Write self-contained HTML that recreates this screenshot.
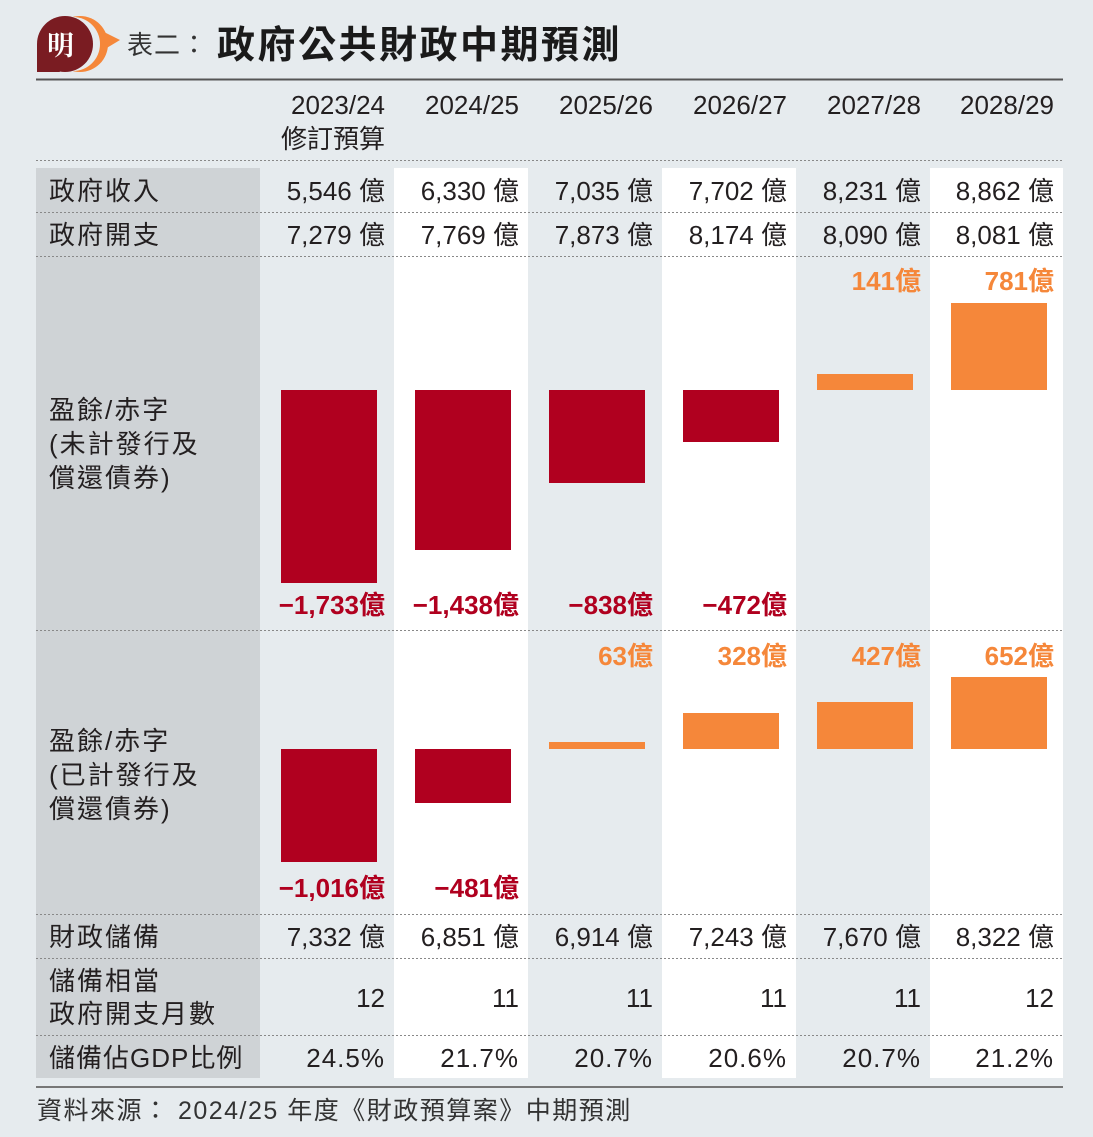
<!DOCTYPE html>
<html><head><meta charset="utf-8"><style>
html,body{margin:0;padding:0;background:#e6ebee;}
svg{display:block;}
text{font-family:"Liberation Sans","Noto Sans CJK TC",sans-serif;fill:#231f20;}
.v{font-size:26px;text-anchor:end;}
.l{font-size:26px;letter-spacing:2px;}
.r{fill:#b0001f;font-weight:bold;font-size:26px;text-anchor:end;}
.o{fill:#f5873a;font-weight:bold;font-size:26px;text-anchor:end;}
</style></head><body>
<svg width="1093" height="1137" viewBox="0 0 1093 1137" xmlns="http://www.w3.org/2000/svg">
<rect width="1093" height="1137" fill="#e6ebee"/>
<!-- logo -->
<circle cx="80" cy="44" r="28" fill="#f5873a"/>
<path d="M100 30 L120 40 L100 52 Z" fill="#f5873a"/>
<circle cx="73" cy="44" r="27" fill="#e6ebee"/>
<circle cx="65" cy="44" r="28" fill="#7a1c22"/>
<path d="M37 44 L37 72 L60 72 Z" fill="#7a1c22"/>
<text x="47" y="55" style="font-size:27px;font-weight:bold;fill:#fff;font-family:'Noto Serif CJK SC',serif">明</text>
<text x="127" y="54" style="font-size:26px;fill:#333;letter-spacing:1px">表二：</text>
<text x="217" y="58" style="font-size:38px;font-weight:bold;fill:#1a1a1a;letter-spacing:2.5px">政府公共財政中期預測</text>
<line x1="36" y1="79.5" x2="1063" y2="79.5" stroke="#555" stroke-width="2"/>
<!-- backgrounds -->
<rect x="36" y="168" width="224" height="910" fill="#cfd3d6"/>
<rect x="394" y="168" width="134" height="910" fill="#fff"/>
<rect x="662" y="168" width="134" height="910" fill="#fff"/>
<rect x="930" y="168" width="133" height="910" fill="#fff"/>
<!-- dotted lines -->
<g stroke="#888" stroke-width="1" stroke-dasharray="2,2">
<line x1="36" y1="160.5" x2="1063" y2="160.5"/>
<line x1="36" y1="212.5" x2="1063" y2="212.5"/>
<line x1="36" y1="256.5" x2="1063" y2="256.5"/>
<line x1="36" y1="630.5" x2="1063" y2="630.5"/>
<line x1="36" y1="914.5" x2="1063" y2="914.5"/>
<line x1="36" y1="958.5" x2="1063" y2="958.5"/>
<line x1="36" y1="1035.5" x2="1063" y2="1035.5"/>
</g>
<line x1="36" y1="1087" x2="1063" y2="1087" stroke="#777" stroke-width="2"/>
<!-- headers -->
<text class="v" x="385" y="114">2023/24</text>
<text class="v" x="385" y="148">修訂預算</text>
<text class="v" x="519" y="114">2024/25</text>
<text class="v" x="653" y="114">2025/26</text>
<text class="v" x="787" y="114">2026/27</text>
<text class="v" x="921" y="114">2027/28</text>
<text class="v" x="1054" y="114">2028/29</text>
<!-- row labels -->
<text class="l" x="49" y="200">政府收入</text>
<text class="l" x="49" y="244">政府開支</text>
<text class="l" x="49" y="419">盈餘/赤字</text>
<text class="l" x="49" y="453">(未計發行及</text>
<text class="l" x="49" y="487">償還債券)</text>
<text class="l" x="49" y="750">盈餘/赤字</text>
<text class="l" x="49" y="784">(已計發行及</text>
<text class="l" x="49" y="818">償還債券)</text>
<text class="l" x="49" y="946">財政儲備</text>
<text class="l" x="49" y="990">儲備相當</text>
<text class="l" x="49" y="1023">政府開支月數</text>
<text x="49" y="1067" style="font-size:26px;letter-spacing:1px">儲備佔GDP比例</text>
<!-- values -->
<text class="v" x="385" y="200">5,546 億</text><text class="v" x="519" y="200">6,330 億</text><text class="v" x="653" y="200">7,035 億</text><text class="v" x="787" y="200">7,702 億</text><text class="v" x="921" y="200">8,231 億</text><text class="v" x="1054" y="200">8,862 億</text>
<text class="v" x="385" y="244">7,279 億</text><text class="v" x="519" y="244">7,769 億</text><text class="v" x="653" y="244">7,873 億</text><text class="v" x="787" y="244">8,174 億</text><text class="v" x="921" y="244">8,090 億</text><text class="v" x="1054" y="244">8,081 億</text>
<text class="v" x="385" y="946">7,332 億</text><text class="v" x="519" y="946">6,851 億</text><text class="v" x="653" y="946">6,914 億</text><text class="v" x="787" y="946">7,243 億</text><text class="v" x="921" y="946">7,670 億</text><text class="v" x="1054" y="946">8,322 億</text>
<text class="v" x="385" y="1007">12</text><text class="v" x="519" y="1007">11</text><text class="v" x="653" y="1007">11</text><text class="v" x="787" y="1007">11</text><text class="v" x="921" y="1007">11</text><text class="v" x="1054" y="1007">12</text>
<text class="v" x="385" y="1067" style="letter-spacing:1px">24.5%</text><text class="v" x="519" y="1067" style="letter-spacing:1px">21.7%</text><text class="v" x="653" y="1067" style="letter-spacing:1px">20.7%</text><text class="v" x="787" y="1067" style="letter-spacing:1px">20.6%</text><text class="v" x="921" y="1067" style="letter-spacing:1px">20.7%</text><text class="v" x="1054" y="1067" style="letter-spacing:1px">21.2%</text>
<!-- chart 1 -->
<rect x="281" y="390" width="96" height="193" fill="#b0001f"/>
<rect x="415" y="390" width="96" height="160" fill="#b0001f"/>
<rect x="549" y="390" width="96" height="93" fill="#b0001f"/>
<rect x="683" y="390" width="96" height="52" fill="#b0001f"/>
<rect x="817" y="374" width="96" height="16" fill="#f5873a"/>
<rect x="951" y="303" width="96" height="87" fill="#f5873a"/>
<text class="r" x="385" y="614">−1,733億</text>
<text class="r" x="519" y="614">−1,438億</text>
<text class="r" x="653" y="614">−838億</text>
<text class="r" x="787" y="614">−472億</text>
<text class="o" x="921" y="290">141億</text>
<text class="o" x="1054" y="290">781億</text>
<!-- chart 2 -->
<rect x="281" y="749" width="96" height="113" fill="#b0001f"/>
<rect x="415" y="749" width="96" height="54" fill="#b0001f"/>
<rect x="549" y="742" width="96" height="7" fill="#f5873a"/>
<rect x="683" y="713" width="96" height="36" fill="#f5873a"/>
<rect x="817" y="702" width="96" height="47" fill="#f5873a"/>
<rect x="951" y="677" width="96" height="72" fill="#f5873a"/>
<text class="r" x="385" y="897">−1,016億</text>
<text class="r" x="519" y="897">−481億</text>
<text class="o" x="653" y="665">63億</text>
<text class="o" x="787" y="665">328億</text>
<text class="o" x="921" y="665">427億</text>
<text class="o" x="1054" y="665">652億</text>
<!-- source -->
<text x="37" y="1119" style="font-size:25px;fill:#333;letter-spacing:1.5px">資料來源： 2024/25 年度《財政預算案》中期預測</text>
</svg>
</body></html>
